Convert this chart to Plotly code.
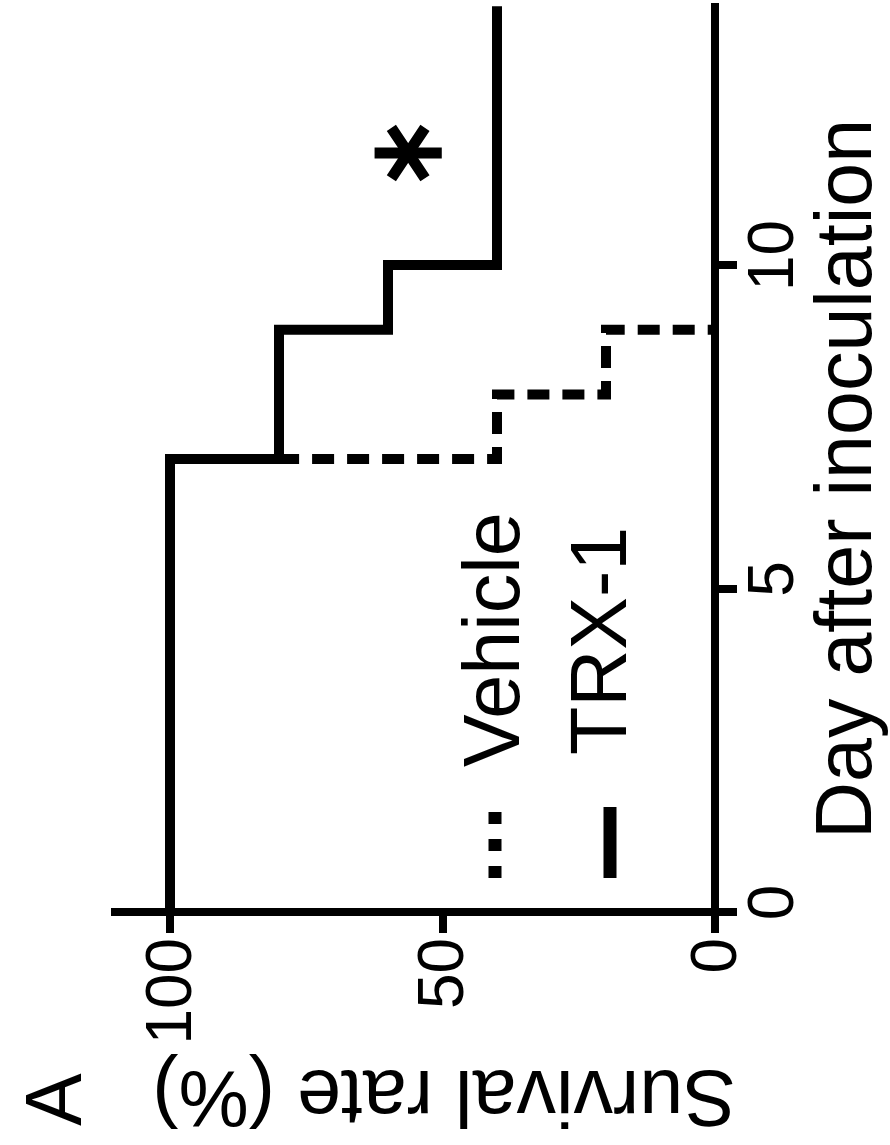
import plotly.graph_objects as go

# ---------------- data ----------------
veh_days = [0, 7, 8, 9]
veh_surv = [100, 40, 20, 0]
trx_days = [0, 7, 9, 10, 14]
trx_surv = [100, 80, 60, 40, 40]
surv_ticks = [0, 50, 100]
surv_ticklabels = ["0", "50", "100"]
day_ticks = [0, 5, 10]
day_ticklabels = ["0", "5", "10"]
series_names = ["Vehicle", "TRX-1"]
star_surv = [56.3, 56.3]
star_day = [11.73, 11.73]

# ---------------- geometry (pixels) ----------------
W, H = 890, 1145
L, R, T, B = 111, 737, 3, 933          # plot area edges
X0, X100 = 715, 170                    # survival 0 / 100 pixel positions
Y0, Y10 = 912, 265                     # day 0 / 10 pixel positions
kx = (X0 - X100) / 100.0
ky = (Y0 - Y10) / 10.0

def sx(px):  # pixel -> survival value
    return (X0 - px) / kx

def dy(py):  # pixel -> day value
    return (Y0 - py) / ky

def pxp(px):
    return (px - L) / (R - L)

def pyp(py):
    return (B - py) / (B - T)

FONT = "Liberation Sans, Arial, Helvetica, sans-serif"
BIG = 79
TICK = 64

fig = go.Figure()

fig.add_trace(go.Scatter(
    x=veh_surv, y=veh_days, mode="lines", line_shape="vh",
    line=dict(color="black", width=10, dash="22px,13px"),
    name=series_names[0], showlegend=False))
fig.add_trace(go.Scatter(
    x=trx_surv, y=trx_days, mode="lines", line_shape="vh",
    line=dict(color="black", width=10),
    name=series_names[1], showlegend=False))

# legend glyphs
fig.add_trace(go.Scatter(
    x=[sx(495), sx(495)], y=[dy(878), dy(812)], mode="lines",
    line=dict(color="black", width=13, dash="12px,15px"),
    showlegend=False, hoverinfo="skip"))
fig.add_trace(go.Scatter(
    x=[sx(610), sx(610)], y=[dy(878), dy(807)], mode="lines",
    line=dict(color="black", width=13),
    showlegend=False, hoverinfo="skip"))

# significance asterisk
fig.add_trace(go.Scatter(
    x=star_surv, y=star_day, mode="markers",
    marker=dict(symbol=["y-left-open", "y-right-open"], size=42,
                color="black", line=dict(color="black", width=11)),
    showlegend=False, hoverinfo="skip"))

annos = [
    dict(text=series_names[0], x=pxp(491), y=pyp(640), textangle=-90, size=BIG),
    dict(text=series_names[1], x=pxp(598), y=pyp(641), textangle=-90, size=BIG),
    dict(text="Day after inoculation", x=pxp(843), y=pyp(479), textangle=-90, size=BIG),
    dict(text="Survival rate (%)", x=pxp(444), y=pyp(1099), textangle=180, size=BIG),
    dict(text="A", x=pxp(53), y=pyp(1100), textangle=-90, size=BIG),
]
for a in annos:
    fig.add_annotation(
        text=a["text"], x=a["x"], y=a["y"], xref="paper", yref="paper",
        xanchor="center", yanchor="middle", showarrow=False,
        textangle=a["textangle"], font=dict(family=FONT, size=a["size"], color="black"))

fig.update_layout(
    width=W, height=H,
    margin=dict(l=L, r=W - R, t=T, b=H - B, pad=0),
    paper_bgcolor="white", plot_bgcolor="white",
    showlegend=False,
    xaxis=dict(
        range=[sx(L), sx(R)], showgrid=False, showline=False,
        zeroline=True, zerolinecolor="black", zerolinewidth=8,
        tickmode="array", tickvals=surv_ticks, ticktext=surv_ticklabels,
        ticks="inside", ticklen=B - Y0, tickwidth=8, tickcolor="black",
        ticklabelstandoff=-9,
        tickangle=-90, tickfont=dict(family=FONT, size=TICK, color="black"),
        fixedrange=True),
    yaxis=dict(
        range=[dy(B), dy(T)], side="right", showgrid=False, showline=False,
        zeroline=True, zerolinecolor="black", zerolinewidth=8,
        tickmode="array", tickvals=day_ticks, ticktext=day_ticklabels,
        ticks="inside", ticklen=R - X0, tickwidth=8, tickcolor="black",
        ticklabelstandoff=-9,
        tickangle=-90, tickfont=dict(family=FONT, size=TICK, color="black"),
        fixedrange=True),
)

fig.write_html(
    "out.html",
    config={"displayModeBar": False},
    post_script="document.body.style.margin='0';document.body.style.overflow='hidden';",
)
